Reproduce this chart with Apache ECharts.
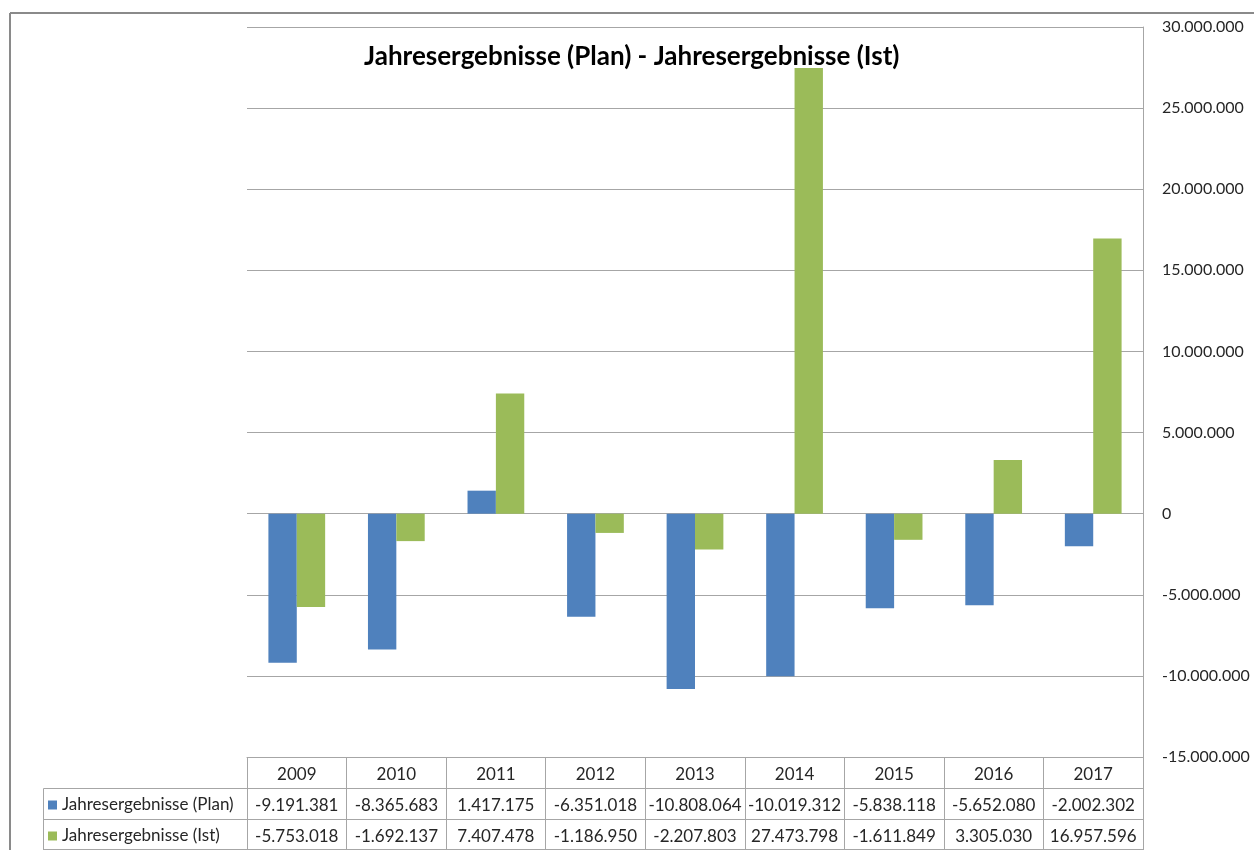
<!DOCTYPE html>
<html>
<head>
<meta charset="utf-8">
<title>Jahresergebnisse</title>
<script src="https://cdn.jsdelivr.net/npm/echarts@6/dist/echarts.min.js"></script>
<style>
  html, body { margin: 0; padding: 0; background: #fff; }
  #chart { width: 1254px; height: 850px; }
</style>
</head>
<body>
<div id="chart"></div>
<script>
  // Daten
  var years = ['2009', '2010', '2011', '2012', '2013', '2014', '2015', '2016', '2017'];
  var planValues = [-9191381, -8365683, 1417175, -6351018, -10808064, -10019312, -5838118, -5652080, -2002302];
  var istValues = [-5753018, -1692137, 7407478, -1186950, -2207803, 27473798, -1611849, 3305030, 16957596];
  var seriesNames = ['Jahresergebnisse (Plan)', 'Jahresergebnisse (Ist)'];

  var fontName = 'Lato';
  var lineColor = '#a6a6a6';
  var textColor = '#262626';

  // 1234567 -> 1.234.567
  function fmt(v){
    var s = Math.abs(v).toString().replace(/\B(?=(\d{3})+(?!\d))/g, '.');
    return (v < 0 ? '-' : '') + s;
  }

  var planText = planValues.map(fmt);
  var istText = istValues.map(fmt);

  // zusaetzliche x-Achsen fuer die Datentabelle
  function tableAxis(data, offset){
    return {
      type: 'category',
      position: 'bottom',
      offset: offset,
      data: data,
      axisLine: { show: true, onZero: false, lineStyle: { color: lineColor, width: 1 } },
      axisTick: { show: false },
      axisLabel: { interval: 0, margin: 9, fontSize: 17, fontFamily: fontName, color: textColor }
    };
  }

  var myChart = echarts.init(document.getElementById('chart'));
  var option = {
    animation: false,
    color: ['#4f81bd', '#9bbb59'],
    title: {
      text: 'Jahresergebnisse (Plan) - Jahresergebnisse (Ist)',
      left: 359,
      top: 39,
      textStyle: { fontFamily: fontName, fontSize: 26, fontWeight: 'bold', color: '#000' }
    },
    legend: {
      orient: 'vertical',
      left: 48,
      top: 795,
      padding: 0,
      itemWidth: 9,
      itemHeight: 9,
      itemGap: 11,
      icon: 'rect',
      data: seriesNames,
      textStyle: { fontFamily: fontName, fontSize: 17, lineHeight: 20, color: textColor }
    },
    grid: { left: 247, right: 111, top: 27, bottom: 93, outerBoundsMode: 'none' },
    xAxis: [
      {
        type: 'category',
        position: 'bottom',
        data: years,
        axisLine: { show: true, onZero: false, lineStyle: { color: lineColor, width: 1 } },
        // Ticks als senkrechte Tabellenlinien
        axisTick: { show: true, length: 93, lineStyle: { color: lineColor, width: 1 } },
        axisLabel: { interval: 0, margin: 9, fontSize: 17, fontFamily: fontName, color: textColor }
      },
      tableAxis(planText, 31),
      tableAxis(istText, 62),
      tableAxis(years.map(function(){ return ''; }), 92)
    ],
    yAxis: {
      type: 'value',
      position: 'right',
      min: -15000000,
      max: 30000000,
      interval: 5000000,
      axisLine: { show: true, lineStyle: { color: lineColor, width: 1 } },
      axisTick: { show: false },
      splitLine: { show: true, lineStyle: { color: lineColor, width: 1 } },
      axisLabel: {
        margin: 19,
        fontSize: 16,
        fontFamily: fontName,
        color: textColor,
        formatter: function(v){ return fmt(v); }
      }
    },
    series: [
      { name: seriesNames[0], type: 'bar', data: planValues, barGap: '0%', barCategoryGap: '43%' },
      { name: seriesNames[1], type: 'bar', data: istValues, barGap: '0%', barCategoryGap: '43%' }
    ],
    graphic: [
      // Rahmen des Diagramms
      { type: 'line', shape: { x1: 10, y1: 13, x2: 1254, y2: 13 }, style: { stroke: '#8a8a8a', lineWidth: 2 } },
      { type: 'line', shape: { x1: 10, y1: 13, x2: 10, y2: 850 }, style: { stroke: '#8a8a8a', lineWidth: 2 } },
      // Legendenspalte der Tabelle
      { type: 'line', shape: { x1: 43.5, y1: 788.5, x2: 247, y2: 788.5 }, style: { stroke: lineColor, lineWidth: 1 } },
      { type: 'line', shape: { x1: 43.5, y1: 819.5, x2: 247, y2: 819.5 }, style: { stroke: lineColor, lineWidth: 1 } },
      { type: 'line', shape: { x1: 43.5, y1: 849.5, x2: 247, y2: 849.5 }, style: { stroke: lineColor, lineWidth: 1 } },
      { type: 'line', shape: { x1: 43.5, y1: 788.5, x2: 43.5, y2: 850 }, style: { stroke: lineColor, lineWidth: 1 } }
    ]
  };
  myChart.setOption(option);
</script>
</body>
</html>
